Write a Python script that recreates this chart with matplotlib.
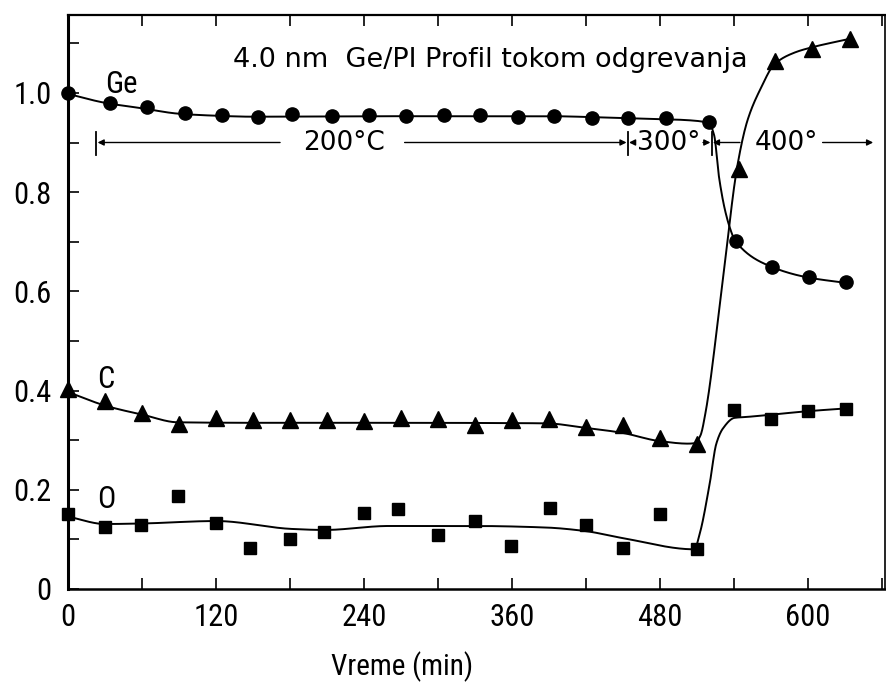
import numpy as np
import matplotlib
matplotlib.use("Agg")
import matplotlib.pyplot as plt
from matplotlib import font_manager
from matplotlib.ticker import MultipleLocator, FuncFormatter

# pick a narrow sans face if one is installed
_fonts = font_manager.fontManager.ttflist
_names = {f.name for f in _fonts}
_stretch = "normal"
_family = "DejaVu Sans"
for cand in ["Liberation Sans Narrow", "Roboto Condensed", "Open Sans Condensed",
             "DejaVu Sans Condensed", "Noto Sans Condensed"]:
    if cand in _names:
        _family = cand
        break
else:
    for f in _fonts:
        if "condensed" in str(f.stretch).lower() or "narrow" in f.fname.lower() \
                or "condensed" in f.fname.lower():
            _family = f.name
            _stretch = f.stretch
            break
plt.rcParams["font.family"] = [_family, "DejaVu Sans"]
plt.rcParams["font.stretch"] = _stretch
WIDE = dict(family=["DejaVu Sans"], stretch="normal")

# measured points (time in min, relative signal)
ge_t = [0, 34, 64, 95, 125, 154, 182, 214, 244, 274, 305, 334, 365, 394, 425, 454,
        485, 520, 542, 571, 601, 631]
ge_v = [1.000, 0.979, 0.972, 0.959, 0.956, 0.952, 0.957, 0.954, 0.956, 0.954, 0.955,
        0.956, 0.952, 0.954, 0.950, 0.950, 0.949, 0.942, 0.702, 0.650, 0.628, 0.618]

c_t = [0, 30, 60, 90, 120, 150, 180, 210, 240, 270, 300, 330, 360, 390, 420, 450,
       480, 510, 544, 573, 603, 634]
c_v = [0.403, 0.379, 0.355, 0.332, 0.345, 0.340, 0.340, 0.340, 0.339, 0.345, 0.343,
       0.330, 0.340, 0.342, 0.327, 0.330, 0.305, 0.293, 0.847, 1.065, 1.088, 1.108]

o_t = [0, 30, 59, 89, 120, 148, 180, 208, 240, 268, 300, 330, 359, 391, 420, 450,
       480, 510, 540, 570, 600, 631]
o_v = [0.151, 0.124, 0.130, 0.188, 0.134, 0.083, 0.101, 0.115, 0.154, 0.162, 0.108,
       0.137, 0.087, 0.164, 0.130, 0.083, 0.151, 0.080, 0.361, 0.342, 0.359, 0.362]

# hand-drawn trend curves (knots)
ge_fit_t = [0, 30, 60, 90, 120, 150, 260, 390, 440, 484, 508, 520, 524, 528, 533,
            537.6, 541, 570, 600, 631]
ge_fit_v = [0.998, 0.980, 0.969, 0.958, 0.954, 0.952, 0.953, 0.953, 0.950, 0.947,
            0.944, 0.938, 0.915, 0.830, 0.762, 0.722, 0.702, 0.650, 0.628, 0.617]

c_fit_t = [0, 31, 61, 89, 150, 250, 387, 419, 449, 480, 503, 508.5, 513, 517, 530,
           543, 551, 562, 573, 589, 602, 634]
c_fit_v = [0.397, 0.369, 0.351, 0.336, 0.335, 0.335, 0.334, 0.325, 0.315, 0.298,
           0.293, 0.294, 0.310, 0.355, 0.600, 0.855, 0.944, 1.010, 1.058, 1.081,
           1.091, 1.109]

o_fit_t = [0, 30, 59, 120, 182, 208, 260, 330, 387, 419, 449, 508, 512.3, 520.4,
           525.7, 531, 540.6, 551.3, 569, 598, 631]
o_fit_v = [0.146, 0.131, 0.132, 0.137, 0.121, 0.119, 0.127, 0.127, 0.124, 0.117,
           0.103, 0.080, 0.111, 0.212, 0.292, 0.323, 0.345, 0.347, 0.351, 0.358,
           0.364]

# annealing stages: boundary times and labels
stage_bars = [23, 454, 522]
stage_labels = ["200°C", "300°", "400°"]
stage_label_t = [224, 487, 583]


def pchip(xk, yk, xs):
    """Monotone piecewise cubic through the knots."""
    xk = np.asarray(xk, float)
    yk = np.asarray(yk, float)
    h = np.diff(xk)
    d = np.diff(yk) / h
    m = np.zeros_like(yk)
    m[0], m[-1] = d[0], d[-1]
    for k in range(1, len(xk) - 1):
        if d[k - 1] * d[k] > 0:
            w1 = 2 * h[k] + h[k - 1]
            w2 = h[k] + 2 * h[k - 1]
            m[k] = (w1 + w2) / (w1 / d[k - 1] + w2 / d[k])
    idx = np.clip(np.searchsorted(xk, xs) - 1, 0, len(xk) - 2)
    s = (xs - xk[idx]) / h[idx]
    h00 = 2 * s**3 - 3 * s**2 + 1
    h10 = s**3 - 2 * s**2 + s
    h01 = -2 * s**3 + 3 * s**2
    h11 = s**3 - s**2
    return (h00 * yk[idx] + h10 * h[idx] * m[idx]
            + h01 * yk[idx + 1] + h11 * h[idx] * m[idx + 1])


fig = plt.figure(figsize=(8.86, 6.84), dpi=100)
ax = fig.add_axes([68 / 886, 1 - 589 / 684, 817 / 886, 574 / 684])

for ft, fv in [(ge_fit_t, ge_fit_v), (c_fit_t, c_fit_v), (o_fit_t, o_fit_v)]:
    xs = np.linspace(ft[0], ft[-1], 1500)
    ax.plot(xs, pchip(ft, fv, xs), color="black", lw=1.4, clip_on=False)

ax.plot(ge_t, ge_v, "o", color="black", ms=9.5, ls="none", clip_on=False)
ax.plot(c_t, c_v, "^", color="black", ms=12, ls="none", clip_on=False)
ax.plot(o_t, o_v, "s", color="black", ms=9.2, ls="none", clip_on=False)

# series names
ax.text(30, 1.0, "Ge", fontsize=22, ha="left", va="baseline")
ax.text(24, 0.405, "C", fontsize=22, ha="left", va="baseline")
ax.text(23.5, 0.163, "O", fontsize=22, ha="left", va="baseline")

ax.text(134, 1.052, "4.0 nm  Ge/PI Profil tokom odgrevanja", fontsize=19.5,
        ha="left", va="baseline", **WIDE)

# temperature stages along y = 0.9
yb = 0.9
arrow = dict(arrowstyle="-|>", color="black", lw=1.0, mutation_scale=9,
             shrinkA=0, shrinkB=0)
for xb in stage_bars:
    ax.plot([xb, xb], [yb - 0.025, yb + 0.022], color="black", lw=1.3)
for t, lab in zip(stage_label_t, stage_labels):
    ax.text(t, yb, lab, fontsize=19, ha="center", va="center", **WIDE)
ax.annotate("", xy=(stage_bars[0] + 1, yb), xytext=(172, yb), arrowprops=arrow)
ax.annotate("", xy=(stage_bars[1] - 1, yb), xytext=(273, yb), arrowprops=arrow)
ax.annotate("", xy=(stage_bars[1] + 1, yb), xytext=(459, yb), arrowprops=arrow)
ax.annotate("", xy=(stage_bars[2] - 1, yb), xytext=(515, yb), arrowprops=arrow)
ax.annotate("", xy=(stage_bars[2] + 1, yb), xytext=(545, yb), arrowprops=arrow)
ax.annotate("", xy=(653, yb), xytext=(612, yb), arrowprops=arrow)

ax.set_xlim(0, 662.6)
ax.set_ylim(0, 1.157)

ax.xaxis.set_major_locator(MultipleLocator(120))
ax.xaxis.set_minor_locator(MultipleLocator(60))
ax.yaxis.set_major_locator(MultipleLocator(0.2))
ax.yaxis.set_minor_locator(MultipleLocator(0.1))
ax.yaxis.set_major_formatter(FuncFormatter(lambda v, p: "0" if abs(v) < 1e-9 else f"{v:.1f}"))
ax.tick_params(which="both", direction="in", top=True, right=False,
               length=8, width=1.2, labelsize=22)
ax.tick_params(axis="x", which="major", pad=10)
ax.tick_params(axis="y", which="major", pad=12)

for side, lw in [("left", 2.2), ("bottom", 1.8), ("top", 1.6), ("right", 1.2)]:
    ax.spines[side].set_linewidth(lw)

fig.text(402 / 886, 1 - 667 / 684, "Vreme (min)", fontsize=21, ha="center", va="center")

fig.savefig("out.png", dpi=100)
